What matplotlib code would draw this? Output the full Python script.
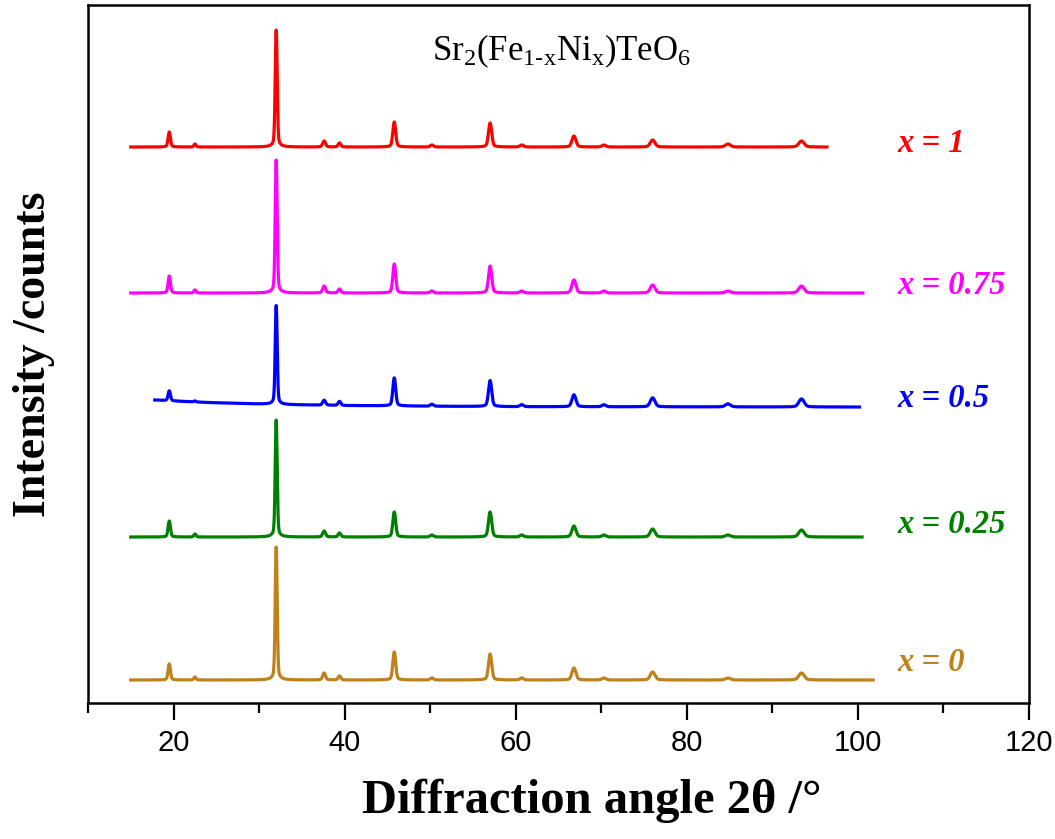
import numpy as np
import matplotlib
matplotlib.use("Agg")
import matplotlib.pyplot as plt
from matplotlib.ticker import MultipleLocator

plt.rcParams["mathtext.fontset"] = "custom"
plt.rcParams["mathtext.rm"] = "Liberation Serif"
plt.rcParams["mathtext.it"] = "Liberation Serif:italic"
plt.rcParams["mathtext.bf"] = "Liberation Serif:bold"

# Reflection positions (2θ, degrees) and peak widths (Gaussian sigma, degrees)
peak_pos = [19.5, 22.5, 32.0, 37.6, 39.4, 45.8, 50.2, 57.0, 60.7, 66.8, 70.3, 76.0, 84.8, 93.4]
peak_sig = [0.13, 0.12, 0.11, 0.16, 0.15, 0.16, 0.18, 0.18, 0.2, 0.22, 0.22, 0.26, 0.28, 0.3]

# Peak heights above background for each composition (arbitrary counts)
h_x0 = [16, 3, 133, 7, 4, 28, 2, 26, 2, 12, 2, 8, 2, 7]
h_x025 = [16, 3, 117, 6, 4, 25, 2, 25, 2, 11, 2, 8, 2, 7]
h_x05 = [10, 1, 99, 5, 4, 28, 2, 26, 2, 12, 2, 9, 3, 8]
h_x075 = [17, 3, 133, 7, 4, 29, 2, 27, 2, 13, 2, 8, 2, 7]
h_x1 = [15, 3, 117, 6, 4, 25, 2, 24, 2, 11, 2, 7, 3, 6]

# Vertical stacking offsets and scan ranges
offsets = [23, 166, 296, 410, 556]
scan_start = [15.0, 15.0, 17.8, 15.0, 15.0]
scan_end = [101.8, 100.5, 100.2, 100.6, 96.4]

# Sloping low-angle background of the x = 0.5 scan
bg05_x = [17.8, 20, 24, 28, 32, 40, 50, 60, 101]
bg05_y = [7, 6, 4.5, 3.5, 2.5, 1.5, 0.8, 0.3, 0]

labels = ["x = 0", "x = 0.25", "x = 0.5", "x = 0.75", "x = 1"]
label_y = [41, 179, 305, 418, 560]
colors = ["#C0801A", "#008000", "#0000FF", "#FF00FF", "#FF0000"]
heights = [h_x0, h_x025, h_x05, h_x075, h_x1]


def pattern(tt, heights_):
    y = np.zeros_like(tt)
    for p, s, h in zip(peak_pos, peak_sig, heights_):
        g = np.exp(-0.5 * ((tt - p) / s) ** 2)
        lor = 1.0 / (1.0 + ((tt - p) / (2.5 * s)) ** 2)
        y += h * (0.88 * g + 0.12 * lor)
    return y


fig = plt.figure(figsize=(10.55, 8.39), dpi=100)
ax = fig.add_axes([0.0834, 0.1621, 0.8920, 0.8319])

for i in range(5):
    tt = np.arange(scan_start[i], scan_end[i], 0.02)
    y = pattern(tt, heights[i]) + offsets[i]
    if i == 2:
        y = y + np.interp(tt, bg05_x, bg05_y)
    ax.plot(tt, y, color=colors[i], lw=2.3, solid_joinstyle="round")
    ax.text(104.6, label_y[i], labels[i], color=colors[i], fontsize=23.5,
            va="center", ha="left", fontfamily="Liberation Serif",
            fontweight="bold", fontstyle="italic")

ax.text(65.4, 652,
        r"Sr$_\mathregular{2}$(Fe$_\mathregular{1\text{-}x}$Ni$_\mathregular{x}$)TeO$_\mathregular{6}$",
        fontsize=25, fontfamily="Liberation Serif", ha="center", va="center")

ax.set_xlim(10, 120)
ax.set_ylim(0, 698)
ax.xaxis.set_major_locator(MultipleLocator(20))
ax.xaxis.set_minor_locator(MultipleLocator(10))
ax.set_yticks([])
ax.tick_params(axis="x", which="major", direction="out", length=12, width=1.6,
               labelsize=21, pad=7)
ax.tick_params(axis="x", which="minor", direction="out", length=7, width=1.6)
for lbl in ax.get_xticklabels():
    lbl.set_fontfamily("Liberation Sans")
for sp in ax.spines.values():
    sp.set_linewidth(1.8)

ax.set_xlabel("Diffraction angle 2θ /°", fontsize=35, fontweight="bold",
              fontfamily="Liberation Serif")
ax.xaxis.set_label_coords(0.535, -0.108)
ax.set_ylabel("Intensity /counts", fontsize=33, fontweight="bold",
              fontfamily="Liberation Serif", labelpad=24)

fig.savefig("out.png", dpi=100, facecolor="white")
